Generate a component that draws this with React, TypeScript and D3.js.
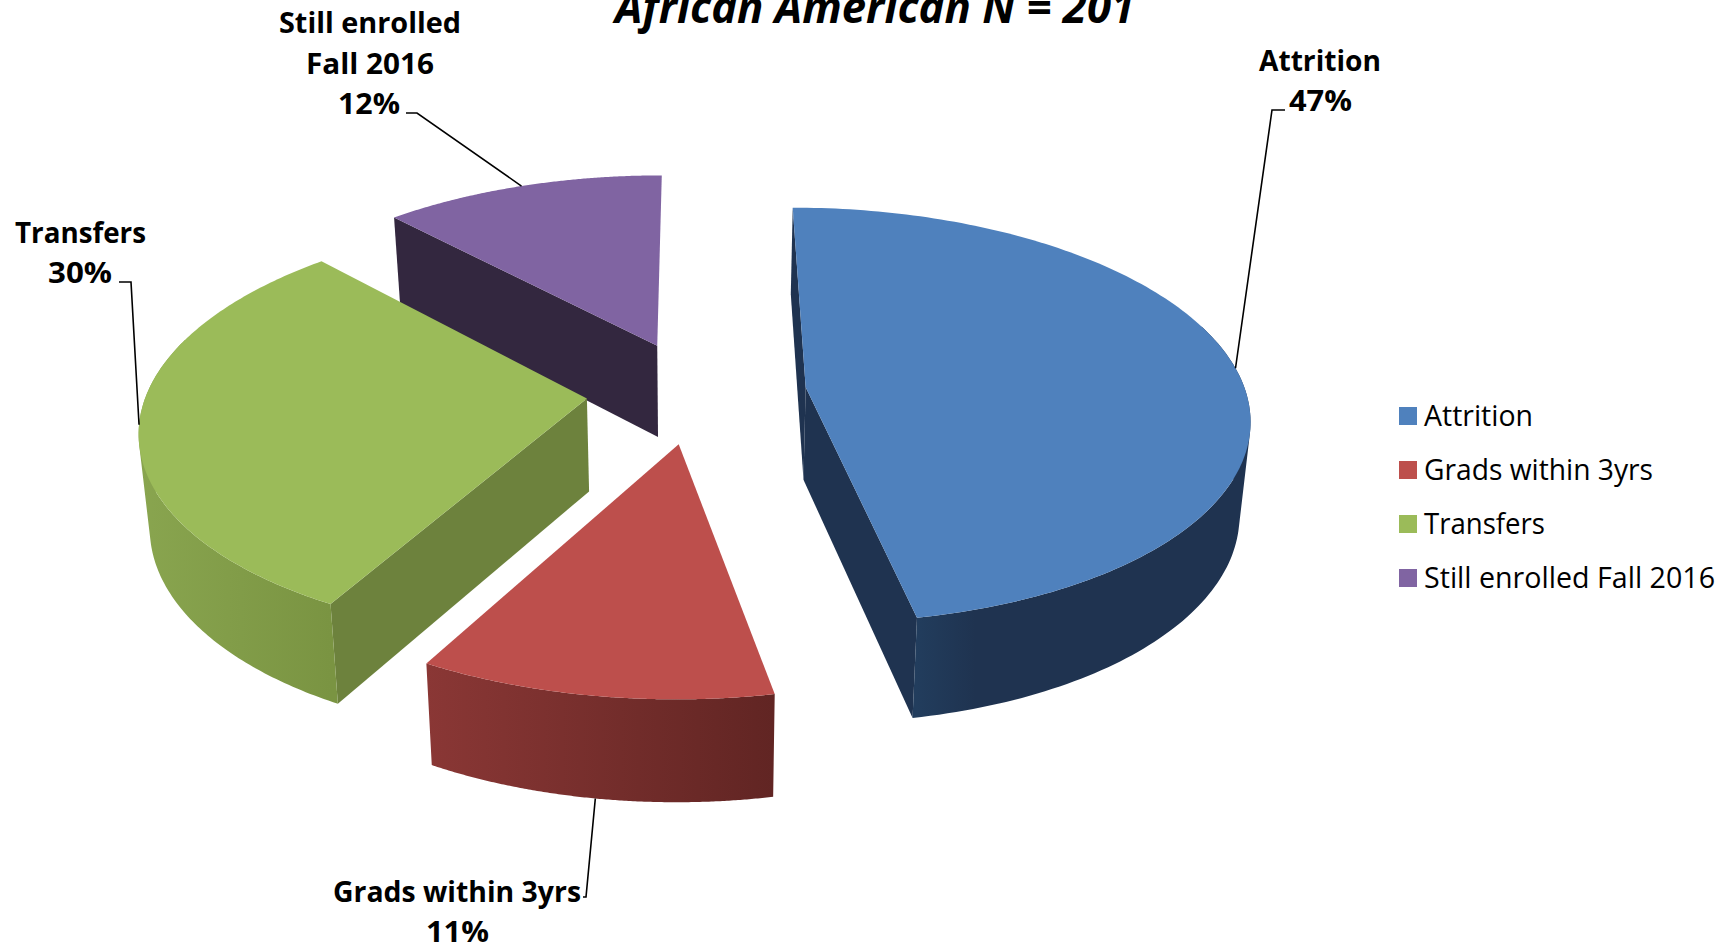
import React from "react";
import * as d3 from "d3";

const categories = ["Attrition", "Grads within 3yrs", "Transfers", "Still enrolled Fall 2016"];
const percentages = [47, 11, 30, 12];
const titleText = "African American N = 201";
const topColors = ["#4f81bd", "#bd4f4c", "#9bbb59", "#8064a2"];
const sideColors = ["#1f3350", "#7a302e", "#6d823d", "#33273f"];
const wallFrom = ["#223d5d", "#8a3735", "#89a54f", "#33273f"];
const wallTo = ["#1f3350", "#612523", "#7a9442", "#33273f"];
const wallStart = [0.27, 0, 0, 0];
const wallEnd = [0.4, 1, 1, 1];

// per-slice data-label layout: lines of text with their extents and the leader elbow
const labelLines = [
  [["Attrition", 1259, 71, 122], ["47%", 1289, 111, 63]],
  [["Grads within 3yrs", 333, 902, 248], ["11%", 426, 942, 63]],
  [["Transfers", 15, 243, 131], ["30%", 48, 283, 64]],
  [["Still enrolled", 279, 33, 182], ["Fall 2016", 306, 74, 128], ["12%", 338, 114, 62]],
] as [string, number, number, number][][];
const leaderElbows = [
  [[1272, 110], [1285, 110]],
  [[586, 897], [583, 897]],
  [[131, 282], [119, 282]],
  [[417, 113], [406, 113]],
];
const legendWidths = [109, 229, 121, 291];

const W = 1732, H = 949;
const XC = 696.5, YC = 392, AX = 440, CY = 205, G = 0.135, EXPLODE = 0.25;
const topFace = (px: number, py: number): [number, number] => {
  const den = 1 + G * py;
  return [XC + (AX * px) / den, YC - (CY * py) / den];
};
const lowerFace = ([x, y]: [number, number]): [number, number] => [
  XC + (x - XC) * 0.98,
  y + 93 + (y - 400) * 0.033,
];

const arcs = d3.pie<number>().sort(null).startAngle(0).endAngle(2 * Math.PI)(percentages);
const line = d3.line();
const FONT = "'Open Sans', 'Noto Sans', sans-serif";
const EPS = 1e-6;
const faces = (ox: number, oy: number) => oy < -EPS || (Math.abs(oy) <= EPS && ox < 0);

const slices = arcs.map((a) => {
  const mid = (a.startAngle + a.endAngle) / 2;
  const ox = EXPLODE * Math.sin(mid), oy = EXPLODE * Math.cos(mid);
  const at = (t: number) => topFace(ox + Math.sin(t), oy + Math.cos(t));
  const angles = d3.range(0, 161).map((i) => a.startAngle + ((a.endAngle - a.startAngle) * i) / 160);
  const arcTop = angles.map(at);
  const arcLow = arcTop.map(lowerFace);
  const apex = topFace(ox, oy);
  const apexLow = lowerFace(apex);
  const quads: string[] = [];
  angles.slice(1).forEach((t, i) => {
    if (Math.cos(t) > 0.3) return;
    const q: [number, number][] = [arcTop[i], arcTop[i + 1], arcLow[i + 1], arcLow[i]];
    if (d3.polygonArea(q) < 0) q.reverse();
    quads.push(line(q)! + "Z");
  });
  const walls: string[] = [];
  const last = arcTop.length - 1;
  if (faces(-Math.cos(a.startAngle), Math.sin(a.startAngle)))
    walls.push(line([apex, arcTop[0], arcLow[0], apexLow])! + "Z");
  if (faces(Math.cos(a.endAngle), -Math.sin(a.endAngle)))
    walls.push(line([apex, arcTop[last], arcLow[last], apexLow])! + "Z");
  return {
    top: line([apex, ...arcTop])! + "Z",
    outer: quads.join(""),
    walls,
    xMin: d3.min(arcTop, (p) => p[0])!,
    xMax: d3.max(arcTop, (p) => p[0])!,
    anchor: at(mid),
    anchorLow: lowerFace(at(mid)),
  };
});

const paintOrder = [3, 0, 2, 1];

export default function App() {
  return (
    <svg width={W} height={H} viewBox={`0 0 ${W} ${H}`} style={{ position: "absolute", left: 0, top: 0, background: "#fff" }}>
      <defs>
        {slices.map((s, i) => (
          <linearGradient key={i} id={`wall${i}`} gradientUnits="userSpaceOnUse" x1={s.xMin} x2={s.xMax} y1={0} y2={0}>
            <stop offset={wallStart[i]} stopColor={wallFrom[i]} />
            <stop offset={wallEnd[i]} stopColor={wallTo[i]} />
          </linearGradient>
        ))}
      </defs>

      {paintOrder.map((i) => {
        const s = slices[i];
        return (
          <g key={i}>
            {s.walls.map((d, k) => (
              <path key={k} d={d} fill={sideColors[i]} />
            ))}
            <path d={s.outer} fill={`url(#wall${i})`} />
            <path d={s.top} fill={topColors[i]} />
          </g>
        );
      })}

      {slices.map((s, i) => {
        const start = i === 1 ? s.anchorLow : s.anchor;
        return (
          <path key={i} d={line([start, ...(leaderElbows[i] as [number, number][])])!} fill="none" stroke="#000" strokeWidth={1.6} />
        );
      })}

      {labelLines.flat().map(([t, x, y, w], i) => (
        <text key={i} x={x} y={y} textLength={w} lengthAdjust="spacingAndGlyphs" fontFamily={FONT} fontWeight={700} fontSize={29} fill="#000">
          {t}
        </text>
      ))}

      <text x={615} y={23} textLength={520} lengthAdjust="spacingAndGlyphs" fontFamily={FONT} fontWeight={700} fontStyle="italic" fontSize={45} fill="#000">
        {titleText}
      </text>

      {categories.map((c, i) => (
        <g key={c}>
          <rect x={1399} y={407 + i * 54} width={18} height={18} fill={topColors[i]} />
          <text x={1424} y={426 + i * 54} textLength={legendWidths[i]} lengthAdjust="spacingAndGlyphs" fontFamily={FONT} fontSize={29} fill="#000">
            {c}
          </text>
        </g>
      ))}
    </svg>
  );
}
